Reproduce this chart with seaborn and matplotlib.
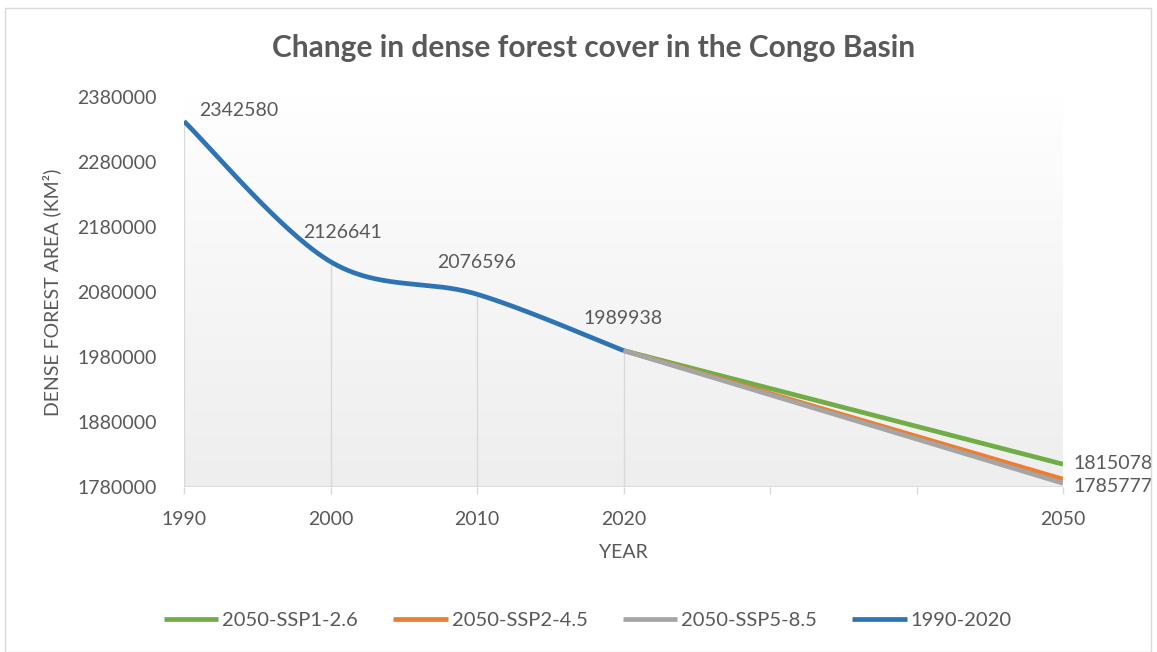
import numpy as np
import pandas as pd
import matplotlib
matplotlib.use("Agg")
import matplotlib.pyplot as plt
import seaborn as sns
from matplotlib.patches import Rectangle

# ---- data ----
years_hist = [1990, 2000, 2010, 2020]
area_hist = [2342580, 2126641, 2076596, 1989938]
years_proj = [2020, 2050]
ssp126 = [1989938, 1815078]
ssp245 = [1989938, 1792000]
ssp585 = [1989938, 1785777]
tick_years = [1990, 2000, 2010, 2020, 2030, 2040, 2050]
tick_labels = ["1990", "2000", "2010", "2020", "", "", "2050"]
y_ticks = [1780000, 1880000, 1980000, 2080000, 2180000, 2280000, 2380000]

series_names = ["2050-SSP1-2.6", "2050-SSP2-4.5", "2050-SSP5-8.5", "1990-2020"]
colors = ["#70AD47", "#ED7D31", "#A5A5A5", "#2E74B5"]
text_col = "#595959"


def smooth(xs, ys, n=60):
    """Bezier smoothing through the points (neighbour-based control points)."""
    P = np.column_stack([xs, ys]).astype(float)
    k = len(P)
    out = []
    for i in range(k - 1):
        p0 = P[max(i - 1, 0)]
        p1 = P[i]
        p2 = P[i + 1]
        p3 = P[min(i + 2, k - 1)]
        c1 = p1 + (p2 - p0) / 6.0
        c2 = p2 - (p3 - p1) / 6.0
        t = np.linspace(0, 1, n)[:, None]
        seg = ((1 - t) ** 3) * p1 + 3 * ((1 - t) ** 2) * t * c1 + 3 * (1 - t) * t ** 2 * c2 + t ** 3 * p2
        out.append(seg if i == 0 else seg[1:])
    arr = np.vstack(out)
    return arr[:, 0], arr[:, 1]


sns.set_theme(style="white")
plt.rcParams["font.family"] = ["Lato", "DejaVu Sans"]

W, H = 1157, 652
fig = plt.figure(figsize=(W / 100, H / 100), dpi=100)
fig.patch.set_facecolor("white")
fig.patches.append(Rectangle((5 / W, 0), (W - 11) / W, (H - 8) / H, transform=fig.transFigure,
                             fill=False, edgecolor="#D9D9D9", linewidth=1.0))

ax = fig.add_axes([184 / W, 1 - 487 / H, (1063 - 184) / W, (487 - 97) / H])
ax.set_xlim(1990, 2050)
ax.set_ylim(1780000, 2380000)

# gradient plot-area fill
grad = np.linspace(0, 1, 256) ** 0.9
grad_rgb = np.ones((256, 1, 3)) * (1 - grad[:, None, None] * (1 - 0xEE / 255))
ax.imshow(grad_rgb, extent=[1990, 2050, 1780000, 2380000], aspect="auto", origin="upper", zorder=0)

# drop lines and baseline
for x, y in zip(years_hist, area_hist):
    ax.plot([x, x], [1780000, y], color="#D9D9D9", lw=1.0, zorder=1)
ax.axhline(1780000, color="#D9D9D9", lw=1.2, zorder=1)

proj = pd.DataFrame({
    "year": years_proj * 3,
    "area": ssp126 + ssp245 + ssp585,
    "series": [series_names[0]] * 2 + [series_names[1]] * 2 + [series_names[2]] * 2,
})
for name, col in zip(series_names[:3], colors[:3]):
    d = proj[proj["series"] == name]
    sns.lineplot(data=d, x="year", y="area", color=col, lw=3.4, ax=ax, label=name,
                 zorder=3, solid_capstyle="butt")

sx, sy = smooth(years_hist, area_hist)
hist = pd.DataFrame({"year": sx, "area": sy})
sns.lineplot(data=hist, x="year", y="area", color=colors[3], lw=3.4, ax=ax, label=series_names[3],
             zorder=4, sort=False, estimator=None, solid_capstyle="butt")

# data labels
fs = 14
offsets = [(55, 11), (12, 29), (0, 32), (0, 32)]
for x, y, (dx, dy) in zip(years_hist, area_hist, offsets):
    ax.annotate(f"{y}", (x, y), xytext=(dx, dy), textcoords="offset pixels",
                ha="center", va="center", fontsize=fs, color=text_col, zorder=5)
ax.annotate(f"{ssp126[1]}", (2050, ssp126[1]), xytext=(10, 1), textcoords="offset pixels",
            ha="left", va="center", fontsize=fs, color=text_col, annotation_clip=False)
ax.annotate(f"{ssp585[1]}", (2050, ssp585[1]), xytext=(10, -3), textcoords="offset pixels",
            ha="left", va="center", fontsize=fs, color=text_col, annotation_clip=False)

ax.set_xticks(tick_years)
ax.set_xticklabels(tick_labels)
ax.set_yticks(y_ticks)
ax.set_yticklabels([str(v) for v in y_ticks])
ax.tick_params(axis="x", length=5, width=1, color="#D9D9D9", labelsize=fs, labelcolor=text_col, pad=12,
               bottom=True, direction="out")
ax.tick_params(axis="y", length=0, labelsize=fs, labelcolor=text_col, pad=19.5)
for s in ax.spines.values():
    s.set_visible(False)
ax.grid(False)

ax.set_xlabel("YEAR", fontsize=fs, color=text_col, labelpad=12)
ax.set_ylabel("DENSE FOREST AREA (KM²)", fontsize=fs, color=text_col)
ax.yaxis.label.set(ha="center", va="center", rotation_mode="default")
ax.yaxis.set_label_coords((52 - 184) / (1063 - 184), 0.5)
ax.get_legend().remove()

fig.suptitle("Change in dense forest cover in the Congo Basin", x=594 / W, y=1 - 48 / H, va="center",
             fontsize=21.5, fontweight="bold", color=text_col)

handles, labels = ax.get_legend_handles_labels()
fig.legend(handles, labels, loc="center", bbox_to_anchor=(588 / W, 1 - 620 / H), ncol=4, frameon=False,
           fontsize=14.5, labelcolor=text_col, handlelength=2.7, handletextpad=0.2, columnspacing=1.75)

fig.savefig("out.png", dpi=100)
